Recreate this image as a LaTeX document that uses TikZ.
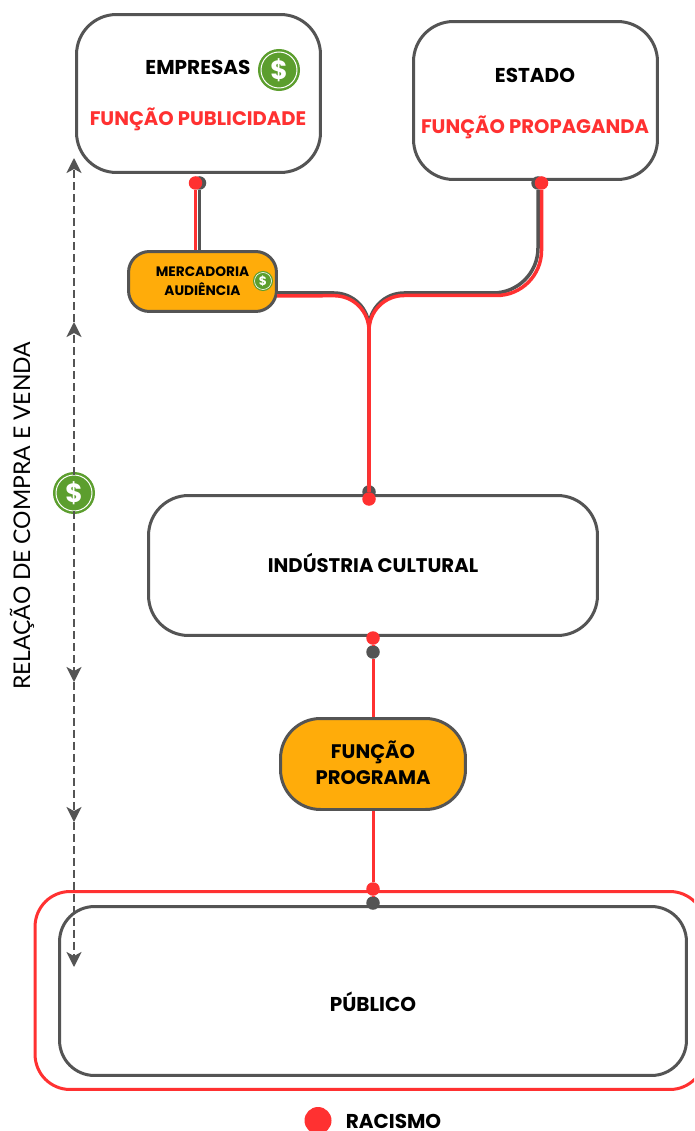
\documentclass[tikz,border=0pt]{standalone}
\usepackage{fontspec}
\setmainfont{Poppins}
\newfontfamily\thinfont{Lato}
\usetikzlibrary{arrows.meta}
\definecolor{linegray}{HTML}{545454}
\definecolor{racered}{HTML}{FF3131}
\definecolor{boxorange}{HTML}{FFAC0A}
\definecolor{coingreen}{HTML}{5C9E2E}
\tikzset{
	box/.style={draw=linegray, line width=0.06cm, rounded corners=0.8cm, fill=white, inner sep=0pt, align=center},
	orangebox/.style={box, fill=boxorange},
	label/.style={font=\fontsize{11.4}{14}\selectfont\bfseries, inner sep=0pt, text height=0.28cm, text depth=0pt},
	redlabel/.style={label, text=racered, font=\fontsize{11.15}{14}\selectfont\bfseries},
	graydot/.style={circle, fill=linegray, minimum size=0.27cm, inner sep=0pt},
	reddot/.style={circle, fill=racered, minimum size=0.27cm, inner sep=0pt},
	grayline/.style={draw=linegray, line width=0.07cm},
	redline/.style={draw=racered, line width=0.07cm},
	dashline/.style={draw=linegray, line width=0.045cm, dash pattern=on 0.16cm off 0.08cm, -{Stealth[length=0.3cm, width=0.3cm, inset=0.08cm]}},
	coinbig/.style={circle, inner sep=0pt, minimum size=0.72cm, fill=coingreen, draw=white, line width=0.02cm, preaction={draw=coingreen, line width=0.12cm}, text=white, font=\fontsize{15}{15}\selectfont\bfseries},
	coinsmall/.style={circle, inner sep=0pt, minimum size=0.34cm, fill=coingreen, draw=white, line width=0.012cm, preaction={draw=coingreen, line width=0.06cm}, text=white, font=\fontsize{7}{7}\selectfont\bfseries}
}
\begin{document}
\begin{tikzpicture}[x=0.02cm, y=-0.02cm]
	\clip (0,0) rectangle (694,1131);
	\fill[white] (0,0) rectangle (694,1131);

	\node (empresas) at (198.5,93.5) [box, minimum width=4.88cm, minimum height=3.16cm] {};
	\node (empLabel) at (198,68) [label] {EMPRESAS};
	\node (pubLabel) at (198,119) [redlabel] {FUNÇÃO PUBLICIDADE};
	\node (empCoin) at (279,70) [coinbig] {\$};

	\node (estado) at (535.5,100.5) [box, minimum width=4.88cm, minimum height=3.16cm] {};
	\node (estLabel) at (535,76) [label] {ESTADO};
	\node (propLabel) at (535,127) [redlabel] {FUNÇÃO PROPAGANDA};

	\node (merc) at (202.5,281.5) [orangebox, rounded corners=0.42cm, minimum width=2.96cm, minimum height=1.2cm, font=\fontsize{7.8}{10.8}\selectfont\bfseries] {MERCADORIA\\AUDIÊNCIA};
	\node (mercCoin) at (263,281) [coinsmall] {\$};

	\node (industria) at (373,565.5) [box, minimum width=8.98cm, minimum height=2.8cm, font=\fontsize{11.2}{14}\selectfont\bfseries, text height=0.28cm, text depth=0pt] {INDÚSTRIA CULTURAL};
	\node (funcao) at (373,764) [orangebox, minimum width=3.7cm, minimum height=1.82cm, font=\fontsize{11.15}{14.8}\selectfont\bfseries, text depth=0.06cm] {FUNÇÃO\\PROGRAMA};

	\node (publico) at (373,991) [box, rounded corners=0.7cm, minimum width=12.54cm, minimum height=3.38cm] {};
	\node (pubText) at (373,1004) [label] {PÚBLICO};
	\node (racbox) at (370,990.5) [draw=racered, line width=0.06cm, rounded corners=0.7cm, minimum width=13.4cm, minimum height=3.96cm] {};

	% dots at the ends of the lines
	\node (empG) at (199.5,183) [graydot] {};
	\node (empR) at (195.5,183) [reddot] {};
	\node (estG) at (538,183) [graydot] {};
	\node (estR) at (541.5,183) [reddot] {};
	\node (indG) at (369,492) [graydot] {};
	\node (indR) at (369,499) [reddot] {};
	\node (saiR) at (373,638) [reddot] {};
	\node (saiG) at (373,652) [graydot] {};
	\node (pubR) at (373,889) [reddot] {};
	\node (pubG) at (373,903) [graydot] {};

	\coordinate (mercG) at (277,293);
	\coordinate (mercR) at (277,296);
	\coordinate (forkG) at (369,293);
	\coordinate (forkR) at (369,295.5);

	\draw[grayline] (empG) -- (empG |- merc.north);
	\draw[redline] (empR) -- (empR |- merc.north);

	\draw[grayline, rounded corners=0.7cm] (mercG) -- (forkG) -- (indG);
	\draw[grayline, rounded corners=0.9cm] (estG) -- (estG |- forkG) [rounded corners=0.7cm] -- (forkG) -- (indG);
	\draw[redline, rounded corners=0.7cm] (mercR) -- (forkR) -- (indR);
	\draw[redline, rounded corners=0.9cm] (estR) -- (estR |- forkR) [rounded corners=0.7cm] -- (forkR) -- (indR);

	\draw[redline, line width=0.06cm] (saiR) -- (saiG);
	\draw[redline, line width=0.06cm] (saiG) -- (funcao);
	\draw[redline, line width=0.06cm] (funcao) -- (pubR);
	\draw[redline, line width=0.06cm] (pubR) -- (pubG);

	% compra e venda
	\node (dolar) at (74,493) [coinbig] {\$};
	\coordinate (upA) at (74,322);
	\coordinate (upB) at (74,158);
	\coordinate (downA) at (74,682);
	\coordinate (downB) at (74,822);
	\coordinate (downC) at (74,967);
	\draw[dashline] (dolar) -- (upA);
	\draw[dashline] (upA) -- (upB);
	\draw[dashline] (dolar) -- (downA);
	\draw[dashline] (downA) -- (downB);
	\draw[dashline] (downB) -- (downC);

	\node (relacao) at (22,516) [rotate=90, inner sep=0pt, font=\thinfont\fontsize{13.06}{16}\selectfont] {RELAÇÃO DE COMPRA E VENDA};

	\node (racDot) at (318,1120.5) [reddot, minimum size=0.54cm] {};
	\node (racText) at (393.5,1121.5) [label] {RACISMO};
\end{tikzpicture}
\end{document}
